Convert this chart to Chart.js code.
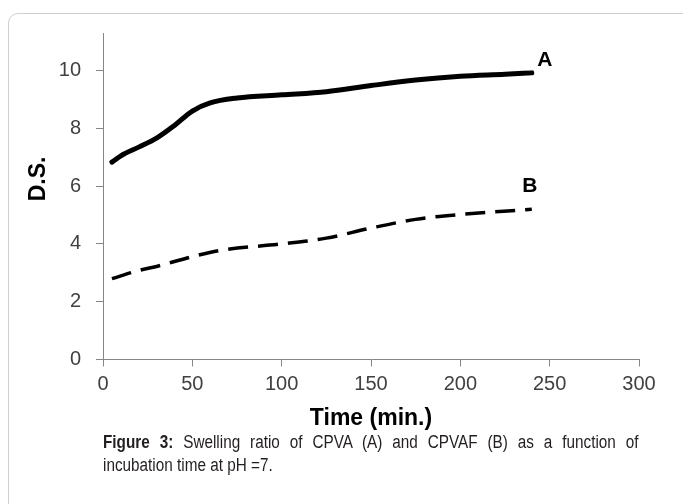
<!DOCTYPE html>
<html>
<head>
<meta charset="utf-8">
<script src="https://cdn.jsdelivr.net/npm/chart.js@4"></script>
<style>
  html, body { margin: 0; padding: 0; background: #fff; overflow: hidden; }
  body { width: 683px; height: 504px; position: relative; }
  .frame {
    position: absolute; left: 8px; top: 13px; width: 720px; height: 540px;
    border: 1px solid #cfcfcf; border-radius: 10px;
  }
  #wrap { position: absolute; left: 0; top: 0; width: 683px; height: 440px; }
  .caption {
    position: absolute; left: 103px; top: 431px; width: 630px;
    font-family: "Liberation Sans", Arial, sans-serif;
    font-size: 18px; line-height: 23px; color: #231f20;
    text-align: justify;
    transform: scaleX(0.85); transform-origin: 0 0;
  }
  .caption b { font-weight: bold; }
</style>
</head>
<body>
<div class="frame"></div>
<div id="wrap"><canvas id="swellCanvas" width="683" height="440"></canvas></div>
<div class="caption"><b>Figure 3:</b> Swelling ratio of CPVA (A) and CPVAF (B) as a function of incubation time at pH =7.</div>
<script>
// values
var timeA = [5, 10, 20, 30, 40, 50, 60, 75, 100, 125, 150, 175, 200, 225, 240];
var dsA = [6.83, 7.05, 7.35, 7.66, 8.1, 8.6, 8.88, 9.05, 9.16, 9.27, 9.48, 9.67, 9.8, 9.87, 9.92];
var timeB = [5, 20, 30, 50, 65, 100, 125, 150, 175, 200, 240];
var dsB = [2.8, 3.08, 3.22, 3.56, 3.77, 4.0, 4.2, 4.55, 4.85, 5.02, 5.2];
var seriesNames = ['A', 'B'];
var xTicks = [0, 50, 100, 150, 200, 250, 300];
var yTicks = [0, 2, 4, 6, 8, 10];
var xTitle = 'Time (min.)';
var yTitle = 'D.S.';

function toPoints(xs, ys) {
    return xs.map(function(x, i) { return {x: x, y: ys[i]}; });
}

var axisColor = '#868686';
var tickFont = {family: '"Liberation Sans", Arial, sans-serif', size: 20};

// series letters at the line ends + rotated y title
var labelPlugin = {
    id: 'labelPlugin',
    afterDraw: function(chart) {
        var ctx = chart.ctx;
        var xs = chart.scales.x, ys = chart.scales.y;
        var offsets = [[13, -13], [-2, -23]];
        ctx.save();
        ctx.fillStyle = '#000';
        ctx.font = 'bold 21px "Liberation Sans", Arial, sans-serif';
        ctx.textAlign = 'center';
        ctx.textBaseline = 'middle';
        chart.data.datasets.forEach(function(ds, i) {
            var last = ds.data[ds.data.length - 1];
            ctx.fillText(seriesNames[i], xs.getPixelForValue(last.x) + offsets[i][0], ys.getPixelForValue(last.y) + offsets[i][1]);
        });
        ctx.font = 'bold 23px "Liberation Sans", Arial, sans-serif';
        ctx.translate(39, 179);
        ctx.rotate(-Math.PI / 2);
        ctx.fillText(yTitle, 0, 0);
        ctx.restore();
    }
};

const ctxSwell = document.getElementById('swellCanvas').getContext('2d');
const chartSwell = new Chart(ctxSwell, {
    type: 'line',
    data: {
        datasets: [{
            label: seriesNames[0],
            data: toPoints(timeA, dsA),
            borderColor: '#000',
            borderWidth: 5,
            borderCapStyle: 'round',
            pointRadius: 0,
            fill: false,
            cubicInterpolationMode: 'monotone'
        }, {
            label: seriesNames[1],
            data: toPoints(timeB, dsB),
            borderColor: '#000',
            borderWidth: 3.5,
            borderDash: [20, 10],
            pointRadius: 0,
            fill: false,
            cubicInterpolationMode: 'monotone'
        }]
    },
    options: {
        responsive: false,
        animation: false,
        layout: { padding: { top: 33, right: 44, left: 0, bottom: 0 } },
        plugins: { legend: { display: false }, tooltip: { enabled: false } },
        scales: {
            x: {
                type: 'linear',
                min: 0,
                max: 300,
                afterBuildTicks: function(scale) {
                    scale.ticks = xTicks.map(function(v) { return {value: v}; });
                },
                afterFit: function(scale) { scale.height = 80.5; },
                grid: { drawOnChartArea: false, color: axisColor, tickLength: 7 },
                border: { color: axisColor },
                ticks: { color: '#404040', font: tickFont, padding: 6, maxRotation: 0 },
                title: {
                    display: true,
                    text: xTitle,
                    color: '#000',
                    font: {family: '"Liberation Sans", Arial, sans-serif', size: 23, weight: 'bold'},
                    padding: { top: 0, bottom: 8 }
                }
            },
            y: {
                min: 0,
                max: 11.3,
                afterBuildTicks: function(scale) {
                    scale.ticks = yTicks.map(function(v) { return {value: v}; });
                },
                afterFit: function(scale) { scale.width = 103; },
                grid: { drawOnChartArea: false, color: axisColor, tickLength: 7 },
                border: { color: axisColor },
                ticks: { color: '#404040', font: tickFont, padding: 15 }
            }
        }
    },
    plugins: [labelPlugin]
});
</script>
</body>
</html>
